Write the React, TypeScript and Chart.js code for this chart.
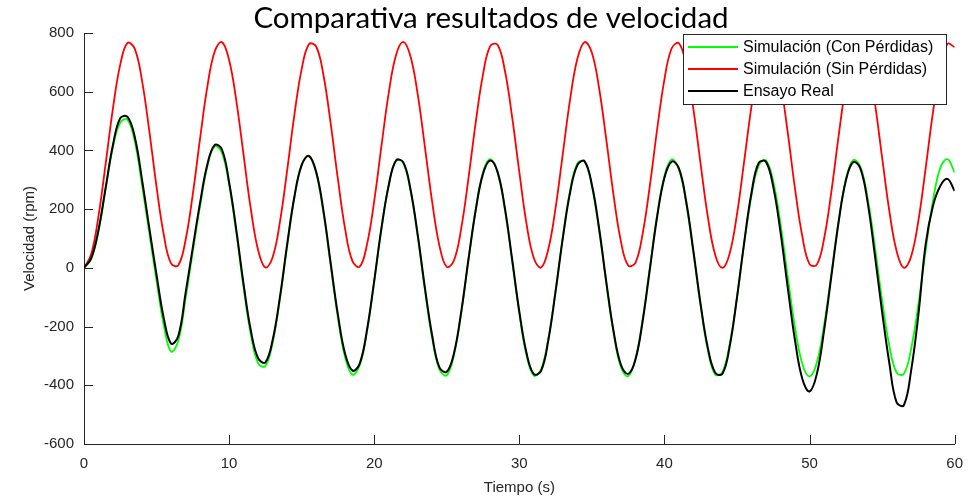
import React, { useEffect, useRef } from "react";
import { Chart, registerables } from "chart.js";

Chart.register(...registerables);

const TITLE = "Comparativa resultados de velocidad";
const X_LABEL = "Tiempo (s)";
const Y_LABEL = "Velocidad (rpm)";
const LEGEND_LABELS = ["Simulación (Con Pérdidas)", "Simulación (Sin Pérdidas)", "Ensayo Real"];
const SERIES_COLORS = ["#00ff00", "#ff0000", "#000000"];
const X_TICKS = [0, 10, 20, 30, 40, 50, 60];
const Y_TICKS = [-600, -400, -200, 0, 200, 400, 600, 800];

// sample times (s)
const times = [
  0, 0.5, 1, 1.5, 2, 2.5, 3, 3.5, 4, 4.5, 5, 5.5, 6, 6.5, 7, 7.5, 8, 8.5, 9, 9.5,
  10, 10.5, 11, 11.5, 12, 12.5, 13, 13.5, 14, 14.5, 15, 15.5, 16, 16.5, 17, 17.5, 18, 18.5, 19, 19.5,
  20, 20.5, 21, 21.5, 22, 22.5, 23, 23.5, 24, 24.5, 25, 25.5, 26, 26.5, 27, 27.5, 28, 28.5, 29, 29.5,
  30, 30.5, 31, 31.5, 32, 32.5, 33, 33.5, 34, 34.5, 35, 35.5, 36, 36.5, 37, 37.5, 38, 38.5, 39, 39.5,
  40, 40.5, 41, 41.5, 42, 42.5, 43, 43.5, 44, 44.5, 45, 45.5, 46, 46.5, 47, 47.5, 48, 48.5, 49, 49.5,
  50, 50.5, 51, 51.5, 52, 52.5, 53, 53.5, 54, 54.5, 55, 55.5, 56, 56.5, 57, 57.5, 58, 58.5, 59, 59.5,
  60,
];

// Simulación (Con Pérdidas) — rpm
const conPerdidas = [
  0, 30, 124, 271, 412, 495, 505, 430, 282, 118, -44, -196, -285, -248, -105, 55, 210, 345, 414, 392,
  283, 118, -68, -228, -325, -334, -255, -108, 72, 239, 352, 381, 322, 188, 8, -171, -306, -364, -332, -218,
  -48, 133, 283, 365, 357, 262, 105, -79, -242, -347, -366, -296, -153, 28, 202, 326, 370, 324, 199, 25,
  -156, -299, -367, -346, -241, -76, 107, 264, 356, 361, 278, 127, -56, -224, -338, -369, -310, -175, 3, 181,
  313, 370, 335, 219, 49, -133, -282, -363, -354, -259, -100, 83, 246, 349, 366, 294, 150, -31, -204, -327,
  -370, -323, -196, -21, 159, 300, 367, 345, 238, 73, -110, -266, -357, -361, -276, -124, 59, 227, 339, 370,
  325,
];

// Simulación (Sin Pérdidas) — rpm
const sinPerdidas = [
  0, 47, 177, 358, 545, 693, 766, 746, 637, 466, 276, 112, 15, 9, 95, 252, 441, 617, 736, 769,
  708, 568, 383, 199, 60, 1, 36, 156, 332, 522, 677, 762, 754, 657, 491, 301, 131, 23, 4, 79,
  228, 416, 596, 724, 770, 720, 590, 409, 222, 74, 3, 26, 136, 307, 497, 660, 756, 760, 673, 515,
  326, 149, 33, 1, 64, 205, 390, 574, 712, 769, 733, 611, 434, 245, 90, 8, 17, 117, 282, 473,
  642, 748, 765, 689, 539, 351, 171, 44, 0, 50, 183, 365, 551, 698, 767, 743, 631, 460, 269, 108,
  13, 11, 99, 258, 448, 622, 738, 768, 704, 562, 376, 193, 57, 0, 39, 161, 339, 528, 682, 763,
  752,
];

// Ensayo Real — rpm
const ensayoReal = [
  0, 33, 130, 276, 420, 510, 514, 446, 300, 136, -24, -172, -258, -232, -86, 70, 222, 352, 418, 404,
  292, 128, -56, -214, -308, -322, -246, -100, 80, 243, 350, 381, 327, 195, 16, -160, -294, -350, -326, -212,
  -44, 136, 281, 366, 360, 268, 112, -70, -232, -340, -354, -290, -148, 31, 198, 321, 366, 327, 205, 31,
  -149, -291, -362, -351, -246, -80, 102, 257, 350, 363, 283, 134, -50, -217, -330, -361, -313, -181, -3, 175,
  307, 362, 339, 226, 56, -126, -275, -357, -361, -266, -101, 88, 256, 358, 361, 276, 121, -68, -248, -378,
  -421, -362, -214, -30, 155, 297, 360, 339, 224, 44, -150, -325, -458, -468, -350, -160, 80, 210, 278, 303,
  262,
];

const AXIS_COLOR = "#262626";
const FONT_FAMILY = "'Liberation Sans', Arial, Helvetica, sans-serif";

export default function App() {
  const ref = useRef<HTMLCanvasElement>(null);

  useEffect(() => {
    const canvas = ref.current;
    if (!canvas) return;

    const toPoints = (vals: number[]) => times.map((t, i) => ({ x: t, y: vals[i] }));

    const overlay = {
      id: "overlay",
      afterDatasetsDraw(chart: any) {
        const ctx = chart.ctx as CanvasRenderingContext2D;
        const { left, bottom } = chart.chartArea;
        const xs = chart.scales.x;
        const ys = chart.scales.y;
        ctx.save();
        // inward tick marks
        ctx.strokeStyle = AXIS_COLOR;
        ctx.lineWidth = 1;
        ctx.beginPath();
        for (const v of Y_TICKS) {
          const py = Math.round(ys.getPixelForValue(v)) + 0.5;
          ctx.moveTo(left, py);
          ctx.lineTo(left + 9, py);
        }
        for (const v of X_TICKS) {
          const px = Math.round(xs.getPixelForValue(v)) + 0.5;
          ctx.moveTo(px, bottom);
          ctx.lineTo(px, bottom - 9);
        }
        ctx.stroke();

        // legend box
        const bx = 683.5, by = 34.5, bw = 263, bh = 70;
        ctx.fillStyle = "#ffffff";
        ctx.fillRect(bx, by, bw, bh);
        ctx.strokeStyle = AXIS_COLOR;
        ctx.lineWidth = 1;
        ctx.strokeRect(bx, by, bw, bh);
        const rows = [47, 69, 91];
        ctx.font = `16px ${FONT_FAMILY}`;
        ctx.textAlign = "left";
        ctx.textBaseline = "middle";
        LEGEND_LABELS.forEach((label, i) => {
          ctx.strokeStyle = SERIES_COLORS[i];
          ctx.lineWidth = 2;
          ctx.beginPath();
          ctx.moveTo(688, rows[i]);
          ctx.lineTo(738, rows[i]);
          ctx.stroke();
          ctx.fillStyle = "#000000";
          ctx.fillText(label, 743, rows[i] + 1);
        });

        // title
        ctx.font = `29.5px Lato, 'Open Sans', sans-serif`;
        ctx.fillStyle = "#000000";
        ctx.textAlign = "center";
        ctx.textBaseline = "alphabetic";
        ctx.fillText(TITLE, 491, 28);
        ctx.restore();
      },
    };

    const common = {
      pointRadius: 0,
      pointHoverRadius: 0,
      borderWidth: 1.8,
      tension: 0.4,
      fill: false,
    };

    const chart = new Chart(canvas, {
      type: "line",
      data: {
        datasets: [
          { ...common, borderWidth: 2, label: LEGEND_LABELS[2], data: toPoints(ensayoReal), borderColor: SERIES_COLORS[2], order: 0 },
          { ...common, label: LEGEND_LABELS[1], data: toPoints(sinPerdidas), borderColor: SERIES_COLORS[1], order: 1 },
          { ...common, label: LEGEND_LABELS[0], data: toPoints(conPerdidas), borderColor: SERIES_COLORS[0], order: 2 },
        ],
      },
      options: {
        animation: false,
        responsive: false,
        maintainAspectRatio: false,
        layout: { padding: { top: 33, right: 16, left: 0, bottom: 0 } },
        plugins: {
          legend: { display: false },
          title: { display: false },
          tooltip: { enabled: false },
        },
        events: [],
        scales: {
          x: {
            type: "linear",
            min: 0,
            max: 60,
            afterFit: (scale: any) => {
              scale.height = 53;
            },
            grid: { display: false, drawTicks: false },
            border: { display: true, color: AXIS_COLOR, width: 1 },
            ticks: {
              stepSize: 10,
              padding: 11,
              color: AXIS_COLOR,
              font: { family: FONT_FAMILY, size: 15 },
              maxRotation: 0,
            },
            title: {
              display: true,
              text: X_LABEL,
              color: AXIS_COLOR,
              font: { family: FONT_FAMILY, size: 15 },
              padding: { top: 0, bottom: 0 },
            },
          },
          y: {
            type: "linear",
            min: -600,
            max: 800,
            afterFit: (scale: any) => {
              scale.width = 84;
            },
            grid: { display: false, drawTicks: false },
            border: { display: true, color: AXIS_COLOR, width: 1 },
            ticks: {
              stepSize: 200,
              padding: 10,
              color: AXIS_COLOR,
              font: { family: FONT_FAMILY, size: 15 },
            },
            title: {
              display: true,
              text: Y_LABEL,
              color: AXIS_COLOR,
              font: { family: FONT_FAMILY, size: 15 },
              padding: { top: 21, bottom: 0 },
            },
          },
        },
      },
      plugins: [overlay],
    });

    return () => {
      chart.destroy();
    };
  }, []);

  return (
    <div style={{ position: "fixed", left: 0, top: 0, width: 974, height: 497, background: "#ffffff" }}>
      <canvas ref={ref} width={974} height={497} style={{ display: "block" }} />
    </div>
  );
}
